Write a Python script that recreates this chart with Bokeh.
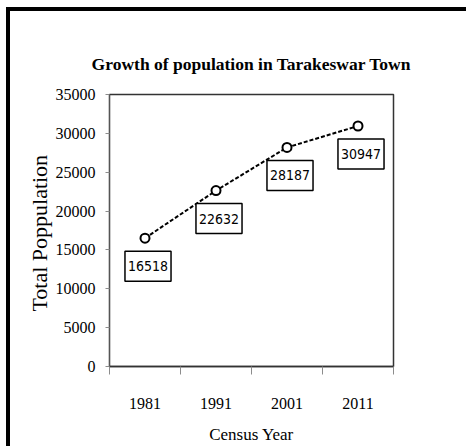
from bokeh.plotting import figure
from bokeh.models import Range1d, FixedTicker, ColumnDataSource, Label, BasicTickFormatter
from bokeh.embed import file_html
from bokeh.resources import INLINE

years = [1981, 1991, 2001, 2011]
population = [16518, 22632, 28187, 30947]
y_ticks = [0, 5000, 10000, 15000, 20000, 25000, 30000, 35000]
title = "Growth of population in Tarakeswar Town"
x_title = "Census Year"
y_title = "Total  Poppulation"

half = (years[1] - years[0]) / 2
boundaries = [y - half for y in years] + [years[-1] + half]

src = ColumnDataSource(dict(year=years, pop=population))

SERIF = "Liberation Serif"
W, H = 466, 446

p = figure(width=W, height=H,
           min_border_left=109, min_border_right=W - 109 - 284, min_border_top=94,
           min_border_bottom=H - 94 - 277,
           x_range=Range1d(boundaries[0], boundaries[-1]), y_range=Range1d(y_ticks[0], y_ticks[-1]),
           output_backend="svg", toolbar_location=None, title=title)
# thick page border on the left and top (drawn behind a transparent canvas border)
p.styles = {"background-color": "white",
            "box-shadow": "inset 6px 7px 0px 0px white, inset 10px 11px 0px 0px black"}
p.border_fill_alpha = 0

p.title.align = "center"
p.title.text_font = SERIF
p.title.text_font_size = "17.5px"
p.title.text_font_style = "bold"
p.title.text_color = "black"
p.title.standoff = 42

p.grid.visible = False
p.outline_line_color = "#333333"
p.outline_line_width = 1.5
p.background_fill_color = "white"

# x axis
xa = p.xaxis[0]
xa.ticker = FixedTicker(ticks=years, minor_ticks=boundaries)
xa.formatter = BasicTickFormatter(use_scientific=False)
xa.major_tick_line_color = None
xa.major_tick_out = 0
xa.major_tick_in = 0
xa.minor_tick_in = 0
xa.minor_tick_out = 8
xa.minor_tick_line_color = "#8c8c8c"
xa.axis_line_color = "#333333"
xa.axis_line_width = 1.5
xa.major_label_standoff = 23
xa.major_label_text_font = SERIF
xa.major_label_text_font_size = "16px"
xa.major_label_text_color = "black"
xa.axis_label = x_title
xa.axis_label_text_font = SERIF
xa.axis_label_text_font_size = "17px"
xa.axis_label_text_font_style = "normal"
xa.axis_label_text_color = "black"
xa.axis_label_standoff = 13

# y axis
ya = p.yaxis[0]
ya.ticker = FixedTicker(ticks=y_ticks)
ya.formatter = BasicTickFormatter(use_scientific=False)
ya.major_tick_line_color = "#8c8c8c"
ya.major_tick_in = 0
ya.major_tick_out = 4
ya.minor_tick_line_color = None
ya.axis_line_color = "#555555"
ya.major_label_standoff = 10
ya.major_label_text_font = SERIF
ya.major_label_text_font_size = "16px"
ya.major_label_text_color = "black"
ya.axis_label = y_title
ya.axis_label_text_font = SERIF
ya.axis_label_text_font_size = "22px"
ya.axis_label_text_font_style = "normal"
ya.axis_label_text_color = "black"
ya.axis_label_standoff = 1

p.line("year", "pop", source=src, line_color="black", line_width=2, line_dash="4 2")
p.scatter("year", "pop", source=src, marker="circle", size=9, fill_color="white",
          line_color="black", line_width=2)

for yr, val in zip(years, population):
    p.add_layout(Label(x=yr, y=val, text=str(val),
                       x_offset=3, y_offset=-28, text_align="center", text_baseline="middle",
                       text_font="DejaVu Sans Condensed",
                       text_font_size="14px", text_color="black",
                       background_fill_color="white", border_line_color="black", border_line_width=1.5,
                       padding=dict(left=3, right=3, top=10, bottom=10)))

open("out.html", "w").write(file_html(p, INLINE))
